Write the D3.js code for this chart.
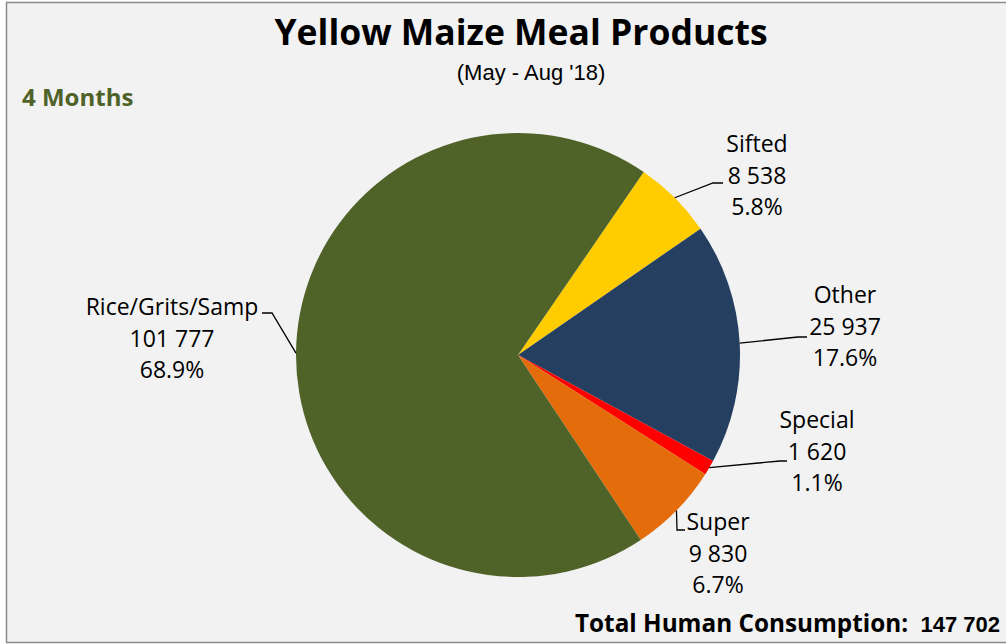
<!DOCTYPE html>
<html>
<head>
<meta charset="utf-8">
<script src="https://cdn.jsdelivr.net/npm/d3@7"></script>
<style>
  body { margin: 0; background: #ffffff; }
  text { font-family: "Open Sans", sans-serif; }
</style>
</head>
<body>
<script>
(function(){

//chart data, clockwise from the top-right
var categories = ["Sifted", "Other", "Special", "Super", "Rice/Grits/Samp"];
var values = [8538, 25937, 1620, 9830, 101777];
var colors = ["#ffcc00", "#243f60", "#ff0000", "#e46c0a", "#4f6228"];

//label anchors (text centre x, first baseline y) and leader elbow
var labelPos = [
    {x: 757, y: 152, ex: 723, ey: 183, kx: 713},
    {x: 845, y: 303, ex: 807, ey: 337, kx: 798},
    {x: 817, y: 428, ex: 787, ey: 461, kx: 780},
    {x: 718, y: 530, ex: 685, ey: 530, kx: 677},
    {x: 172, y: 315, ex: 262, ey: 313, kx: 272}
];

var width = 1006,
    height = 644;

var svg = d3.select("body")
    .append("svg")
    .attr("width", width)
    .attr("height", height);

//chart area with border
svg.append("rect")
    .attr("x", 6.5)
    .attr("y", 2.5)
    .attr("width", 1010)
    .attr("height", 640)
    .attr("fill", "#f2f2f2")
    .attr("stroke", "#8c8c8c")
    .attr("stroke-width", 1.5);

//titles
svg.append("text")
    .attr("x", 521)
    .attr("y", 45)
    .attr("text-anchor", "middle")
    .style("font-size", "35.5px")
    .style("font-weight", "bold")
    .text("Yellow Maize Meal Products");

svg.append("text")
    .attr("x", 531)
    .attr("y", 80)
    .attr("text-anchor", "middle")
    .style("font-family", "'Liberation Sans', Arial, sans-serif")
    .style("font-size", "22px")
    .text("(May - Aug '18)");

svg.append("text")
    .attr("x", 22)
    .attr("y", 106)
    .style("font-size", "24px")
    .style("font-weight", "bold")
    .style("fill", "#4f6228")
    .text("4 Months");

var total = d3.sum(values);
var fmt = d3.formatLocale({decimal: ".", thousands: " ", grouping: [3], currency: ["", ""]}).format(",d");

svg.append("text")
    .attr("x", 575)
    .attr("y", 632)
    .style("font-size", "24.3px")
    .style("font-weight", "bold")
    .text("Total Human Consumption:");

svg.append("text")
    .attr("x", 1000)
    .attr("y", 632)
    .attr("text-anchor", "end")
    .style("font-family", "'Liberation Sans', Arial, sans-serif")
    .style("font-size", "22px")
    .style("font-weight", "bold")
    .text(fmt(total));

//pie
var cx = 518, cy = 355, radius = 222;
var a0 = 34.5 * Math.PI / 180;

var pie = d3.pie()
    .sort(null)
    .startAngle(a0)
    .endAngle(a0 + 2 * Math.PI);

var arc = d3.arc()
    .innerRadius(0)
    .outerRadius(radius);

var slices = pie(values);

var g = svg.append("g")
    .attr("transform", "translate(" + cx + "," + cy + ")");

g.selectAll(".slice")
    .data(slices)
    .enter()
    .append("path")
    .attr("class", "slice")
    .attr("d", arc)
    .attr("fill", function(d, i){ return colors[i]; });

//leader lines
svg.selectAll(".leader")
    .data(slices)
    .enter()
    .append("polyline")
    .attr("class", "leader")
    .attr("fill", "none")
    .attr("stroke", "#000")
    .attr("stroke-width", 1.3)
    .attr("points", function(d, i){
        var p = labelPos[i];
        var m = (d.startAngle + d.endAngle) / 2;
        var px = cx + Math.sin(m) * radius,
            py = cy - Math.cos(m) * radius;
        return [[p.ex, p.ey], [p.kx, p.ey], [px, py]].join(" ");
    });

//labels
var labels = svg.selectAll(".lbl")
    .data(slices)
    .enter()
    .append("text")
    .attr("class", "lbl")
    .attr("text-anchor", "middle")
    .style("font-size", "23px")
    .style("fill", "#000");

labels.each(function(d, i){
    var p = labelPos[i];
    var lines = [categories[i], fmt(d.value), (d.value / total * 100).toFixed(1) + "%"];
    d3.select(this).selectAll("tspan")
        .data(lines)
        .enter()
        .append("tspan")
        .attr("x", p.x)
        .attr("y", function(t, j){ return p.y + j * 31.5; })
        .text(function(t){ return t; });
});

})();
</script>
</body>
</html>
